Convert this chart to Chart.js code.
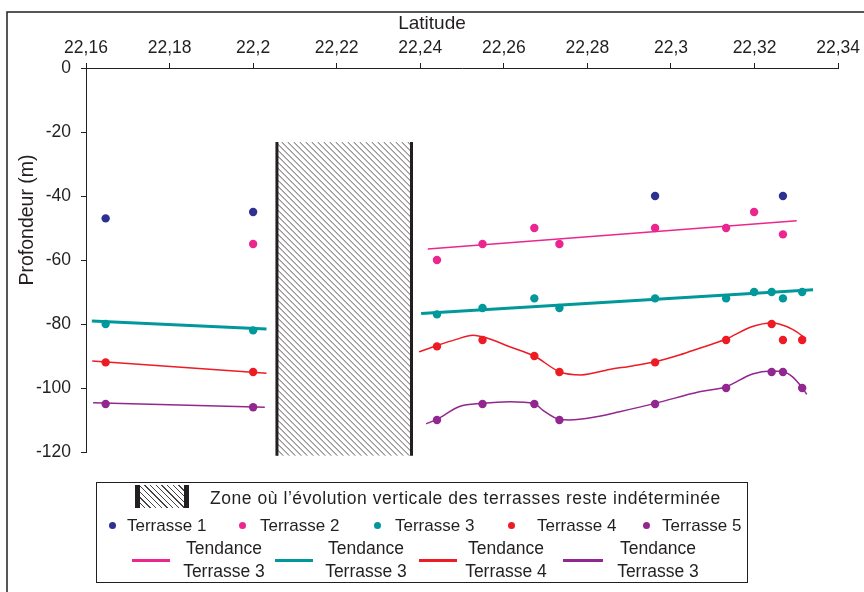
<!DOCTYPE html>
<html>
<head>
<meta charset="utf-8">
<script src="https://cdn.jsdelivr.net/npm/chart.js@4"></script>
<style>
  html, body { margin:0; padding:0; background:#fff; }
  #wrap { position:relative; width:864px; height:592px; overflow:hidden; font-family:"Liberation Sans", Arial, sans-serif; color:#231f20; }
  #c { position:absolute; left:0; top:0; }
  .lg { position:absolute; font-size:17px; line-height:20px; white-space:nowrap; }
  .dot { position:absolute; width:7px; height:7px; border-radius:50%; }
  .ln { position:absolute; height:3px; }
  .tb { position:absolute; width:110px; text-align:center; font-size:17.5px; line-height:23px; }
</style>
</head>
<body>
<div id="wrap">
  <canvas id="c" width="864" height="592"></canvas>
  <div style="position:absolute;left:96px;top:482px;width:652px;height:101px;border:1px solid #231f20;box-sizing:border-box;"></div>
  <div style="position:absolute;left:135px;top:485px;width:54px;height:23px;box-sizing:border-box;border-left:5px solid #231f20;border-right:5px solid #231f20;background:repeating-linear-gradient(45deg,#fff 0 3px,#444 3px 4px);"></div>
  <div class="lg" style="left:210px;top:488px;font-size:17.5px;letter-spacing:0.55px;">Zone où l’évolution verticale des terrasses reste indéterminée</div>

  <div class="dot" style="left:109px;top:522px;background:#2e3192"></div>
  <div class="lg" style="left:127px;top:516px;">Terrasse 1</div>
  <div class="dot" style="left:239px;top:522px;background:#ec268f"></div>
  <div class="lg" style="left:260px;top:516px;">Terrasse 2</div>
  <div class="dot" style="left:374px;top:522px;background:#00989a"></div>
  <div class="lg" style="left:395px;top:516px;">Terrasse 3</div>
  <div class="dot" style="left:508px;top:522px;background:#ed1c24"></div>
  <div class="lg" style="left:537px;top:516px;">Terrasse 4</div>
  <div class="dot" style="left:643px;top:522px;background:#92278f"></div>
  <div class="lg" style="left:662px;top:516px;">Terrasse 5</div>

  <div class="ln" style="left:132px;width:38px;top:559px;background:#ec268f"></div>
  <div class="tb" style="left:169px;top:537px;">Tendance<br>Terrasse 3</div>
  <div class="ln" style="left:275px;width:38px;top:559px;background:#00989a"></div>
  <div class="tb" style="left:311px;top:537px;">Tendance<br>Terrasse 3</div>
  <div class="ln" style="left:419px;width:38px;top:559px;background:#ed1c24"></div>
  <div class="tb" style="left:451px;top:537px;">Tendance<br>Terrasse 4</div>
  <div class="ln" style="left:563px;width:40px;top:559px;background:#92278f"></div>
  <div class="tb" style="left:603px;top:537px;">Tendance<br>Terrasse 3</div>
</div>
<script>
// ---- data ----
const xTicks = [22.16, 22.18, 22.2, 22.22, 22.24, 22.26, 22.28, 22.3, 22.32, 22.34];
const yTicks = [0, -20, -40, -60, -80, -100, -120];

const t1X = [22.1647, 22.2, 22.2962, 22.3268];
const t1Y = [-47, -45, -40, -40];
const t2X = [22.2, 22.244, 22.2549, 22.2673, 22.2733, 22.2962, 22.3132, 22.3199, 22.3268];
const t2Y = [-55, -60, -55, -50, -55, -50, -50, -45, -52];
const t3X = [22.1647, 22.2, 22.244, 22.2549, 22.2673, 22.2733, 22.2962, 22.3132, 22.3199, 22.3241, 22.3268, 22.3314];
const t3Y = [-80, -82, -77, -75, -72, -75, -72, -72, -70, -70, -72, -70];
const t4X = [22.1647, 22.2, 22.244, 22.2549, 22.2673, 22.2733, 22.2962, 22.3132, 22.3241, 22.3268, 22.3314];
const t4Y = [-92, -95, -87, -85, -90, -95, -92, -85, -80, -85, -85];
const t5X = [22.1647, 22.2, 22.244, 22.2549, 22.2673, 22.2733, 22.2962, 22.3132, 22.3241, 22.3268, 22.3314];
const t5Y = [-105, -106, -110, -105, -105, -110, -105, -100, -95, -95, -100];

// trend lines
const trend2X = [22.2418, 22.3301];
const trend2Y = [-56.6, -47.7];
const trend3LX = [22.1614, 22.2032];
const trend3LY = [-79.1, -81.6];
const trend3RX = [22.2402, 22.334];
const trend3RY = [-76.7, -69.3];
const trend4LX = [22.1615, 22.2032];
const trend4LY = [-91.6, -95.4];
const trend5LX = [22.1617, 22.2028];
const trend5LY = [-104.6, -106];
const trend4RX = [22.2397, 22.244, 22.2486, 22.2526, 22.2558, 22.2614, 22.2673, 22.2733, 22.2785, 22.2853, 22.2908, 22.2962, 22.302, 22.3068, 22.3132, 22.3195, 22.3241, 22.3259, 22.3291, 22.3323];
const trend4RY = [-88.7, -86.7, -84.8, -83.5, -84.3, -87.1, -90.0, -94.9, -95.9, -94.2, -93.1, -91.8, -89.7, -87.6, -84.7, -80.8, -79.7, -80.0, -81.7, -84.5];
const trend5RX = [22.2414, 22.244, 22.2494, 22.2549, 22.2614, 22.2673, 22.2693, 22.2733, 22.2757, 22.2821, 22.2877, 22.2962, 22.3068, 22.3132, 22.3195, 22.3241, 22.3268, 22.3291, 22.3314, 22.3325];
const trend5RY = [-111.2, -109.8, -105.8, -104.8, -104.3, -104.9, -106.9, -109.8, -110.0, -109.0, -107.4, -104.8, -101.2, -99.6, -95.6, -94.7, -94.9, -96.5, -99.9, -102.0];

// undetermined zone
const zoneX = [22.2057, 22.2379];
const zoneY = [-23.1, -121.2];

const INK = '#231f20';
const C1 = '#2e3192', C2 = '#ec268f', C3 = '#00989a', C4 = '#ed1c24', C5 = '#92278f';
const pts = (xs, ys) => xs.map((x, i) => ({x, y: ys[i]}));

function pointSet(label, xs, ys, color) {
  return { label, data: pts(xs, ys), showLine: false, backgroundColor: color, borderColor: color,
    pointRadius: 4.2, pointBorderWidth: 0, pointHoverRadius: 4.2, order: 0 };
}
function lineSet(label, xs, ys, color, w, smooth) {
  return { label, data: pts(xs, ys), showLine: true, borderColor: color, backgroundColor: color,
    borderWidth: w, pointRadius: 0, pointHoverRadius: 0, tension: smooth ? 0.4 : 0,
    cubicInterpolationMode: smooth ? 'monotone' : 'default', order: 1 };
}

const framePlugin = {
  id: 'frame',
  beforeDraw(chart) {
    const ctx = chart.ctx;
    ctx.save();
    ctx.strokeStyle = INK; ctx.lineWidth = 1.5;
    ctx.beginPath();
    ctx.moveTo(864, 12); ctx.lineTo(7, 12); ctx.lineTo(7, 592);
    ctx.stroke();
    ctx.restore();
  },
  beforeDatasetsDraw(chart) {
    const {ctx, scales:{x, y}} = chart;
    const x0 = x.getPixelForValue(zoneX[0]), x1 = x.getPixelForValue(zoneX[1]);
    const y0 = y.getPixelForValue(zoneY[0]), y1 = y.getPixelForValue(zoneY[1]);
    ctx.save();
    ctx.beginPath(); ctx.rect(x0, y0, x1 - x0, y1 - y0); ctx.clip();
    ctx.fillStyle = '#fff'; ctx.fillRect(x0, y0, x1 - x0, y1 - y0);
    ctx.strokeStyle = '#555'; ctx.lineWidth = 1;
    const h = y1 - y0;
    ctx.beginPath();
    for (let s = x0 - h; s < x1; s += 6) {
      ctx.moveTo(s + 0.5, y0); ctx.lineTo(s + h + 0.5, y1);
    }
    ctx.stroke();
    ctx.restore();
    ctx.save();
    ctx.strokeStyle = INK; ctx.lineWidth = 3;
    ctx.beginPath();
    ctx.moveTo(x0, y0); ctx.lineTo(x0, y1);
    ctx.moveTo(x1, y0); ctx.lineTo(x1, y1);
    ctx.stroke();
    ctx.restore();
  },
  afterDraw(chart) {
    const ctx = chart.ctx;
    ctx.save();
    ctx.fillStyle = INK;
    ctx.font = '19px "Liberation Sans", Arial, sans-serif';
    ctx.textAlign = 'center'; ctx.textBaseline = 'middle';
    ctx.fillText('Latitude', 432, 24);
    ctx.font = '19.5px "Liberation Sans", Arial, sans-serif';
    ctx.translate(28, 220); ctx.rotate(-Math.PI / 2);
    ctx.fillText('Profondeur (m)', 0, 0);
    ctx.restore();
  }
};

const fmt = v => (Math.round(v * 100) / 100).toString().replace('.', ',');

new Chart(document.getElementById('c'), {
  type: 'scatter',
  data: {
    datasets: [
      pointSet('Terrasse 1', t1X, t1Y, C1),
      pointSet('Terrasse 2', t2X, t2Y, C2),
      pointSet('Terrasse 3', t3X, t3Y, C3),
      pointSet('Terrasse 4', t4X, t4Y, C4),
      pointSet('Terrasse 5', t5X, t5Y, C5),
      lineSet('Tendance Terrasse 2', trend2X, trend2Y, C2, 1.5, false),
      lineSet('Tendance Terrasse 3 (g)', trend3LX, trend3LY, C3, 3, false),
      lineSet('Tendance Terrasse 3 (d)', trend3RX, trend3RY, C3, 3, false),
      lineSet('Tendance Terrasse 4 (g)', trend4LX, trend4LY, C4, 1.5, false),
      lineSet('Tendance Terrasse 4 (d)', trend4RX, trend4RY, C4, 1.5, true),
      lineSet('Tendance Terrasse 5 (g)', trend5LX, trend5LY, C5, 1.5, false),
      lineSet('Tendance Terrasse 5 (d)', trend5RX, trend5RY, C5, 1.5, true)
    ]
  },
  options: {
    responsive: false,
    animation: false,
    devicePixelRatio: 1,
    layout: { padding: { left: 0, top: 0, right: 25, bottom: 140 } },
    plugins: { legend: { display: false }, tooltip: { enabled: false } },
    scales: {
      x: {
        type: 'linear', position: 'top', min: 22.16, max: 22.34,
        afterBuildTicks: s => { s.ticks = xTicks.map(v => ({value: v})); },
        afterFit: s => { s.height = 68; },
        grid: { drawOnChartArea: false, drawTicks: true, tickLength: 5, color: INK },
        border: { display: true, color: INK, width: 1 },
        ticks: { color: INK, padding: 4, maxRotation: 0, autoSkip: false,
          font: { size: 17.5, family: '"Liberation Sans", Arial, sans-serif' }, callback: v => fmt(v) }
      },
      y: {
        type: 'linear', min: -120, max: 0,
        afterBuildTicks: s => { s.ticks = yTicks.map(v => ({value: v})); },
        afterFit: s => { s.width = 86; },
        grid: { drawOnChartArea: false, drawTicks: true, tickLength: 5, color: INK },
        border: { display: true, color: INK, width: 1 },
        ticks: { color: INK, padding: 10, autoSkip: false,
          font: { size: 17.5, family: '"Liberation Sans", Arial, sans-serif' }, callback: v => String(v) }
      }
    }
  },
  plugins: [framePlugin]
});
</script>
</body>
</html>
